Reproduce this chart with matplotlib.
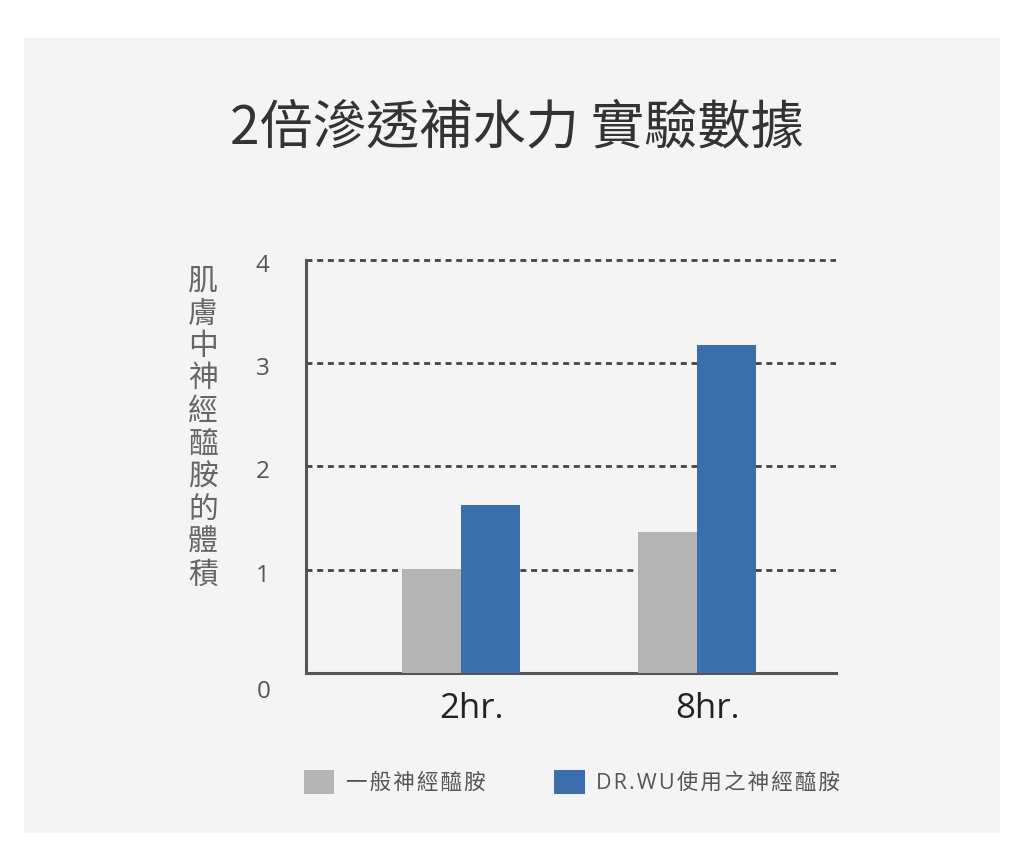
import matplotlib
matplotlib.use("Agg")
import matplotlib.pyplot as plt
from matplotlib.patches import Rectangle, Patch
import matplotlib.transforms as mtransforms
import numpy as np

# ---- data ----
categories = ["2hr.", "8hr."]
series_names = ["一般神經醯胺", "DR.WU使用之神經醯胺"]
normal_values = [1.01, 1.37]
drwu_values = [1.63, 3.18]
yticks = [0, 1, 2, 3, 4]
title = "2倍滲透補水力 實驗數據"
ylabel = "肌膚中神經醯胺的體積"

gray = "#b4b4b4"
blue = "#3b6ead"
panel = "#f4f4f4"
fam_cjk = ["Noto Sans CJK TC", "DejaVu Sans"]
fam_lat = ["Open Sans", "Noto Sans CJK TC", "DejaVu Sans"]

W, H = 1024, 847
fig = plt.figure(figsize=(W / 100, H / 100), dpi=100)
fig.patch.set_facecolor("white")

# gray panel
fig.add_artist(Rectangle((24 / W, 1 - 833 / H), 976 / W, 795 / H,
                         transform=fig.transFigure, facecolor=panel,
                         edgecolor="none", zorder=-10))

ymax = 4.03
px_per_unit = 103.25
ax_bottom = 673
ax_top = ax_bottom - ymax * px_per_unit
ax = fig.add_axes([305.5 / W, 1 - ax_bottom / H, (836 - 305.5) / W,
                   (ax_bottom - ax_top) / H])
ax.set_facecolor("none")

x = np.arange(len(categories))
bw = 0.25
ax.bar(x - bw / 2, normal_values, bw, color=gray, zorder=3, label=series_names[0])
ax.bar(x + bw / 2, drwu_values, bw, color=blue, zorder=3, label=series_names[1])

ax.set_xlim(-0.659, 1.589)
ax.set_ylim(0, ymax)

for s in ["top", "right"]:
    ax.spines[s].set_visible(False)
for s in ["left", "bottom"]:
    ax.spines[s].set_color("#555555")
    ax.spines[s].set_linewidth(2.2)
ax.spines["left"].set_bounds(0, 4)

ax.set_yticks([t for t in yticks if t > 0])
ax.set_yticklabels([str(t) for t in yticks if t > 0], fontsize=17.5,
                   color="#555555", family=fam_lat)
ax.tick_params(axis="y", length=0, pad=26)
for lbl in ax.get_yticklabels():
    lbl.set_transform(lbl.get_transform() +
                      mtransforms.ScaledTranslation(0, -3 / 100, fig.dpi_scale_trans))
ax.annotate(str(yticks[0]), xy=(0, 0), xycoords=("axes fraction", "data"),
            xytext=(-42, -19), textcoords="offset pixels", ha="center",
            va="center", fontsize=17.5, color="#555555", family=fam_lat)

ax.set_xticks(x)
ax.set_xticklabels(categories, fontsize=25, color="#222222", family=fam_lat)
ax.tick_params(axis="x", length=0, pad=14)
for lbl in ax.get_xticklabels():
    lbl.set_transform(lbl.get_transform() +
                      mtransforms.ScaledTranslation(10 / 100, 0, fig.dpi_scale_trans))

ax.yaxis.grid(True, color="#444444", linewidth=2.0,
              linestyle=(0, (2.15, 1.7)), zorder=1)
ax.set_axisbelow(True)

# y label, stacked vertically
fig.text(203 / W, 1 - 428 / H, "\n".join(ylabel), ha="center", va="center",
         fontsize=21.5, color="#666666", family=fam_cjk, linespacing=1.07)

# title
fig.text(517 / W, 1 - 128 / H, title, ha="center", va="center",
         fontsize=38.3, color="#333333", family=fam_cjk, fontweight="light")

# legend (hair spaces imitate the letter spacing of the original)
spaced = ["\u200a".join(n) for n in series_names]
handles = [Patch(facecolor=gray, edgecolor="none"),
           Patch(facecolor=blue, edgecolor="none")]
leg = fig.legend(handles, spaced, loc="center left",
                 bbox_to_anchor=(304 / W, 1 - 782 / H), ncol=2, frameon=False,
                 prop={"family": fam_lat, "size": 15.5},
                 handlelength=1.4, handleheight=1.4, handletextpad=0.55,
                 columnspacing=3.2, borderpad=0, borderaxespad=0)
for t in leg.get_texts():
    t.set_color("#555555")

fig.savefig("out.png", dpi=100, facecolor=fig.get_facecolor())
